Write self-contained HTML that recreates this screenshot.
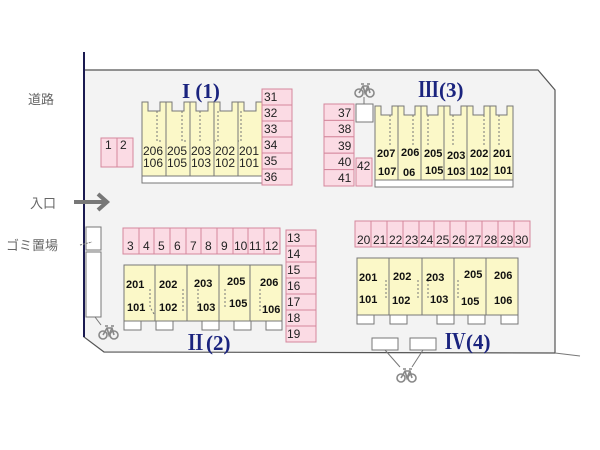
<!DOCTYPE html>
<html><head><meta charset="utf-8"><style>
body{margin:0;background:#fff;}
svg{display:block;font-family:"Liberation Sans","Noto Sans CJK JP",sans-serif;}
.p{fill:#fbdbe4;stroke:#d4879c;stroke-width:1}
.u{fill:#fbf8c8;stroke:#777;stroke-width:1}
.w{fill:#fff;stroke:#777;stroke-width:1}
.t{font-size:12px;fill:#222}
.b{font-size:11px;font-weight:bold;fill:#111}
.d{stroke:#777;stroke-width:1;stroke-dasharray:2,2;fill:none}
.ti{font-family:"Liberation Serif","Noto Serif CJK SC",serif;font-size:21px;fill:#1a237e;font-weight:bold}
.g{font-size:13px;fill:#666}
.bk{fill:none;stroke:#888;stroke-width:1.6}
</style></head><body>
<svg width="600" height="450" viewBox="0 0 600 450">
<defs>
<g id="bike"><circle cx="-5" cy="3" r="4" class="bk"/><circle cx="6" cy="3" r="4" class="bk"/><path d="M-5,3 L-1,-4 L4,-4 L6,3 M-1,-4 L1,3 L4,-4 M-3,-6 L0,-6 M3,-6 L6,-6" class="bk"/></g>
</defs>
<polygon points="84,70 538,70 555,90 555,353 104,352 84,337" fill="#f3f3f3"/>
<polyline points="84,52 84,337 104,352 555,353 555,90 538,70 84,70" fill="none" stroke="#555" stroke-width="1.2"/>
<line x1="84" y1="52" x2="84" y2="337" stroke="#1a1a50" stroke-width="2"/>
<line x1="555" y1="353" x2="580" y2="356" stroke="#777"/>
<text x="28" y="104" class="g">道路</text>
<text x="30" y="208" class="g">入口</text>
<text x="6" y="250" class="g">ゴミ置場</text>
<line x1="74" y1="202" x2="106" y2="202" stroke="#777" stroke-width="4"/>
<polyline points="98,194 107,202 98,210" fill="none" stroke="#777" stroke-width="4"/>
<rect x="86" y="227" width="15" height="23" class="w"/>
<rect x="86" y="252" width="15" height="65" class="w"/>
<line x1="80" y1="245" x2="92" y2="242" stroke="#777" stroke-dasharray="2,1"/>
<line x1="95" y1="317" x2="101" y2="325" stroke="#777"/>
<use href="#bike" x="108" y="332"/>
<use href="#bike" x="364" y="90"/>
<line x1="364" y1="97" x2="364" y2="104" stroke="#777"/>
<use href="#bike" x="406" y="375"/>
<line x1="385" y1="350" x2="400" y2="367" stroke="#777"/><line x1="423" y1="350" x2="412" y2="367" stroke="#777"/>

<rect x="101" y="138" width="16" height="29" class="p"/><rect x="117" y="138" width="16" height="29" class="p"/>
<text x="105" y="149" class="t">1</text><text x="120" y="149" class="t">2</text>

<text x="182" y="98" class="ti">I (1)</text>
<text x="418" y="97" class="ti">Ⅲ(3)</text>
<text x="185" y="350" class="ti">Ⅱ(2)</text>
<text x="445" y="349" class="ti">Ⅳ(4)</text>

<g>
<polygon class="u" points="142,102 148,102 148,111 160,111 160,102 166,102 166,176 142,176"/>
<polygon class="u" points="166,102 172,102 172,111 184,111 184,102 190,102 190,176 166,176"/>
<polygon class="u" points="190,102 196,102 196,111 208,111 208,102 214,102 214,176 190,176"/>
<polygon class="u" points="214,102 220,102 220,111 232,111 232,102 238,102 238,176 214,176"/>
<polygon class="u" points="238,102 244,102 244,111 256,111 256,102 262,102 262,176 238,176"/>
<rect x="142" y="176" width="120" height="7" class="w"/>
<path class="d" d="M157,111v30h5 M182,111v30h5 M200,111v30 M218,111v30h-3 M241,111v30h-3"/>
<text x="143" y="155" class="t">206</text><text x="143" y="167" class="t">106</text>
<text x="167" y="155" class="t">205</text><text x="167" y="167" class="t">105</text>
<text x="191" y="155" class="t">203</text><text x="191" y="167" class="t">103</text>
<text x="215" y="155" class="t">202</text><text x="215" y="167" class="t">102</text>
<text x="239" y="155" class="t">201</text><text x="239" y="167" class="t">101</text>
</g>
<g>
<rect x="262" y="89" width="30" height="16" class="p"/><text x="264" y="101" class="t">31</text>
<rect x="262" y="105" width="30" height="16" class="p"/><text x="264" y="117" class="t">32</text>
<rect x="262" y="121" width="30" height="16" class="p"/><text x="264" y="133" class="t">33</text>
<rect x="262" y="137" width="30" height="16" class="p"/><text x="264" y="149" class="t">34</text>
<rect x="262" y="153" width="30" height="16" class="p"/><text x="264" y="165" class="t">35</text>
<rect x="262" y="169" width="30" height="16" class="p"/><text x="264" y="181" class="t">36</text>
</g>
<g>
<rect x="324" y="104" width="30" height="16.4" class="p"/><text x="338" y="117" class="t">37</text>
<rect x="324" y="120.4" width="30" height="16.4" class="p"/><text x="338" y="133" class="t">38</text>
<rect x="324" y="136.8" width="30" height="16.4" class="p"/><text x="338" y="150" class="t">39</text>
<rect x="324" y="153.2" width="30" height="16.4" class="p"/><text x="338" y="166" class="t">40</text>
<rect x="324" y="169.6" width="30" height="16.4" class="p"/><text x="338" y="182" class="t">41</text>
<rect x="356" y="158" width="16" height="28" class="p"/><text x="357" y="170" class="t">42</text>
<rect x="356" y="104" width="17" height="18" class="w"/>
</g>
<g>
<polygon class="u" points="375,106 381,106 381,115 392,115 392,106 398,106 398,180 375,180"/>
<polygon class="u" points="398,106 404,106 404,115 415,115 415,106 421,106 421,180 398,180"/>
<polygon class="u" points="421,106 427,106 427,115 438,115 438,106 444,106 444,180 421,180"/>
<polygon class="u" points="444,106 450,106 450,115 461,115 461,106 467,106 467,180 444,180"/>
<polygon class="u" points="467,106 473,106 473,115 484,115 484,106 490,106 490,180 467,180"/>
<polygon class="u" points="490,106 496,106 496,115 507,115 507,106 513,106 513,180 490,180"/>
<rect x="375" y="180" width="138" height="7" class="w"/>
<path class="d" d="M390,115v30 M413,115v30 M428,115v30 M453,115v30 M484,115v30 M499,115v30"/>
<text x="377" y="157" class="b">207</text><text x="378" y="175" class="b">107</text>
<text x="401" y="156" class="b">206</text><text x="403" y="176" class="b">06</text>
<text x="424" y="157" class="b">205</text><text x="425" y="174" class="b">105</text>
<text x="447" y="159" class="b">203</text><text x="447" y="175" class="b">103</text>
<text x="470" y="157" class="b">202</text><text x="470" y="175" class="b">102</text>
<text x="493" y="157" class="b">201</text><text x="494" y="174" class="b">101</text>
</g>
<g>
<rect x="123" y="228" width="157" height="26" class="p"/>
<path d="M139,228v26 M154,228v26 M170,228v26 M186,228v26 M201,228v26 M217,228v26 M233,228v26 M248,228v26 M264,228v26" stroke="#d4879c"/>
<text x="127" y="250" class="t">3</text><text x="143" y="250" class="t">4</text><text x="158" y="250" class="t">5</text><text x="174" y="250" class="t">6</text><text x="190" y="250" class="t">7</text><text x="205" y="250" class="t">8</text><text x="221" y="250" class="t">9</text><text x="234" y="250" class="t">10</text><text x="249" y="250" class="t">11</text><text x="265" y="250" class="t">12</text>
</g>
<g>
<rect x="286" y="230" width="30" height="16" class="p"/><text x="287" y="242" class="t">13</text>
<rect x="286" y="246" width="30" height="16" class="p"/><text x="287" y="258" class="t">14</text>
<rect x="286" y="262" width="30" height="16" class="p"/><text x="287" y="274" class="t">15</text>
<rect x="286" y="278" width="30" height="16" class="p"/><text x="287" y="290" class="t">16</text>
<rect x="286" y="294" width="30" height="16" class="p"/><text x="287" y="306" class="t">17</text>
<rect x="286" y="310" width="30" height="16" class="p"/><text x="287" y="322" class="t">18</text>
<rect x="286" y="326" width="30" height="16" class="p"/><text x="287" y="338" class="t">19</text>
</g>
<g>
<rect x="124" y="265" width="158" height="56" class="u"/>
<path d="M155,265v56 M187,265v56 M219,265v56 M250,265v56" stroke="#777"/>
<rect x="124" y="321" width="17" height="9" class="w"/><rect x="156" y="321" width="17" height="9" class="w"/><rect x="202" y="321" width="17" height="9" class="w"/><rect x="234" y="321" width="17" height="9" class="w"/><rect x="266" y="321" width="16" height="9" class="w"/>
<path class="d" d="M150,289v18l4,7 M183,289v22 M198,289v22 M225,289v20 M260,289v22"/>
<text x="126" y="288" class="b">201</text><text x="127" y="311" class="b">101</text>
<text x="159" y="288" class="b">202</text><text x="159" y="311" class="b">102</text>
<text x="194" y="287" class="b">203</text><text x="197" y="311" class="b">103</text>
<text x="227" y="285" class="b">205</text><text x="229" y="307" class="b">105</text>
<text x="260" y="286" class="b">206</text><text x="262" y="313" class="b">106</text>
</g>
<g>
<rect x="355" y="221" width="175" height="26" class="p"/>
<path d="M371,221v26 M387,221v26 M403,221v26 M419,221v26 M434,221v26 M450,221v26 M466,221v26 M482,221v26 M498,221v26 M514,221v26" stroke="#d4879c"/>
<text x="357" y="244" class="t">20</text><text x="373" y="244" class="t">21</text><text x="389" y="244" class="t">22</text><text x="405" y="244" class="t">23</text><text x="420" y="244" class="t">24</text><text x="436" y="244" class="t">25</text><text x="452" y="244" class="t">26</text><text x="468" y="244" class="t">27</text><text x="484" y="244" class="t">28</text><text x="500" y="244" class="t">29</text><text x="515" y="244" class="t">30</text>
</g>
<g>
<rect x="357" y="258" width="161" height="57" class="u"/>
<path d="M389,258v57 M422,258v57 M454,258v57 M486,258v57" stroke="#777"/>
<rect x="357" y="315" width="17" height="9" class="w"/><rect x="390" y="315" width="17" height="9" class="w"/><rect x="437" y="315" width="17" height="9" class="w"/><rect x="468" y="315" width="17" height="9" class="w"/><rect x="501" y="315" width="17" height="9" class="w"/>
<rect x="372" y="338" width="26" height="12" class="w"/><rect x="410" y="338" width="26" height="12" class="w"/>
<path class="d" d="M386,280v20 M418,280v20 M428,280v20 M458,280v20"/>
<text x="359" y="281" class="b">201</text><text x="359" y="303" class="b">101</text>
<text x="393" y="280" class="b">202</text><text x="392" y="304" class="b">102</text>
<text x="426" y="281" class="b">203</text><text x="430" y="303" class="b">103</text>
<text x="464" y="278" class="b">205</text><text x="461" y="305" class="b">105</text>
<text x="494" y="279" class="b">206</text><text x="494" y="304" class="b">106</text>
</g>
</svg>
</body></html>
